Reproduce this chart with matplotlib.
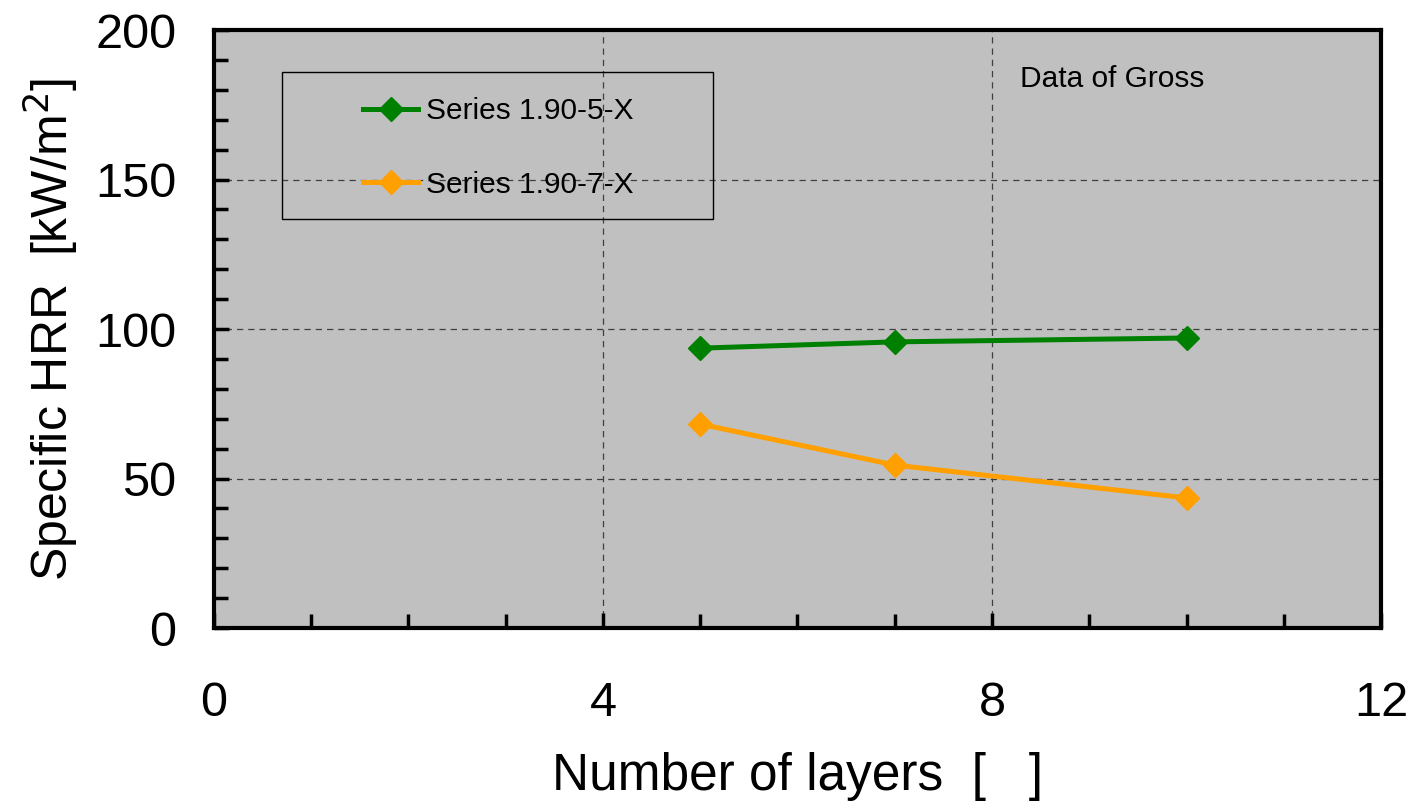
import numpy as np
import matplotlib
matplotlib.use('Agg')
import matplotlib.pyplot as plt
from matplotlib.patches import Rectangle
from matplotlib.ticker import MultipleLocator

# Data
layers = [5, 7, 10]
hrr_5 = [93.6, 95.7, 97.0]
hrr_7 = [68.2, 54.5, 43.5]
series_labels = ['Series 1.90-5-X', 'Series 1.90-7-X']
series_colors = ['#008000', '#FF9F00']

plt.rcParams['font.family'] = ['Liberation Sans', 'DejaVu Sans']

fig = plt.figure(figsize=(14.14, 8.09), dpi=100)
ax = fig.add_axes([0.1513, 0.2237, 0.8254, 0.7392])
ax.set_facecolor('#C0C0C0')

for vals, lab, col in zip([hrr_5, hrr_7], series_labels, series_colors):
    ax.plot(layers, vals, color=col, lw=3.6, marker='D', ms=12, label=lab, zorder=3)

ax.set_xlim(0, 12)
ax.set_ylim(0, 200)
ax.xaxis.set_major_locator(MultipleLocator(4))
ax.xaxis.set_minor_locator(MultipleLocator(1))
ax.yaxis.set_major_locator(MultipleLocator(50))
ax.yaxis.set_minor_locator(MultipleLocator(10))

ax.grid(True, which='major', ls=(0, (5, 4)), color='#404040', lw=0.9)
ax.set_axisbelow(True)

for s in ax.spines.values():
    s.set_linewidth(3)
ax.tick_params(which='both', direction='in', width=2.5, labelsize=35)
ax.tick_params(which='major', length=11)
ax.tick_params(which='minor', length=10)
ax.tick_params(axis='x', pad=38)
ax.tick_params(axis='y', pad=27)

ax.set_xlabel('Number of layers  [   ]', fontsize=37, labelpad=19)
ax.set_ylabel('Specific HRR  [kW/m$^2$]', fontsize=36, labelpad=11)

# Legend box
ax.add_patch(Rectangle((0.058, 0.684), 0.370, 0.245, transform=ax.transAxes,
                       facecolor='none', edgecolor='black', lw=1.0, zorder=4))
ax.legend(loc='upper left', bbox_to_anchor=(0.1277, 0.888), frameon=False,
          fontsize=21.5, handlelength=1.85, handletextpad=0.25, labelspacing=1.53,
          borderaxespad=0, borderpad=0)

ax.text(0.691, 0.918, 'Data of Gross', transform=ax.transAxes, fontsize=21.5,
        ha='left', va='center')

fig.savefig('out.png', dpi=100)
